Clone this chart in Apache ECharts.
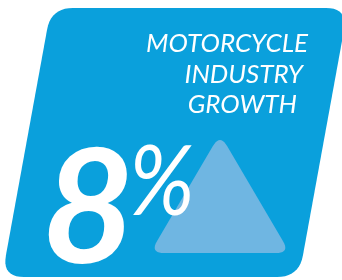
<!DOCTYPE html>
<html>
<head>
<meta charset="utf-8">
<script src="https://cdn.jsdelivr.net/npm/echarts@6/dist/echarts.min.js"></script>
<style>
html, body { margin: 0; padding: 0; background: #fff; }
#main { width: 342px; height: 280px; }
</style>
</head>
<body>
<div id="main"></div>
<script>
// values
var titleLines = ['MOTORCYCLE', 'INDUSTRY', 'GROWTH'];
var growthValue = [8];
var growthUnit = ['%'];

var blue = '#0aa0dc';
var triColor = '#6fb6e2';

// polygon with rounded corners (quadratic corners sampled into points)
function roundedPoints(pts, r) {
    var n = pts.length, out = [];
    for (var i = 0; i < n; i++) {
        var p = pts[i], a = pts[(i - 1 + n) % n], b = pts[(i + 1) % n];
        var la = Math.hypot(a[0] - p[0], a[1] - p[1]);
        var lb = Math.hypot(b[0] - p[0], b[1] - p[1]);
        var s = [p[0] + (a[0] - p[0]) * r / la, p[1] + (a[1] - p[1]) * r / la];
        var e = [p[0] + (b[0] - p[0]) * r / lb, p[1] + (b[1] - p[1]) * r / lb];
        for (var k = 0; k <= 10; k++) {
            var t = k / 10, u = 1 - t;
            out.push([u * u * s[0] + 2 * u * t * p[0] + t * t * e[0],
                      u * u * s[1] + 2 * u * t * p[1] + t * t * e[1]]);
        }
    }
    return out;
}

var panel = [[51, 8], [348, 8], [299, 277], [2, 277]];
var tri = [[220, 134], [290, 253], [150, 253]];

var titleStyle = { fill: '#fff', fontSize: 26, fontFamily: 'Lato', fontStyle: 'italic', align: 'right', verticalAlign: 'bottom' };

var myChart = echarts.init(document.getElementById('main'));
var option = {
    animation: false,
    graphic: [
        { type: 'polygon', shape: { points: roundedPoints(panel, 22) }, style: { fill: blue } },
        { type: 'polygon', shape: { points: roundedPoints(tri, 14) }, style: { fill: triColor } },
        { type: 'text', x: 308, y: 57, style: Object.assign({ text: titleLines[0] }, titleStyle) },
        { type: 'text', x: 303, y: 88, style: Object.assign({ text: titleLines[1] }, titleStyle) },
        { type: 'text', x: 297, y: 118, style: Object.assign({ text: titleLines[2] }, titleStyle) },
        {
            type: 'text', x: 42, y: 291,
            style: { text: String(growthValue[0]), fill: '#fff', fontSize: 160, fontWeight: 'bold', fontFamily: 'Lato', fontStyle: 'italic', align: 'left', verticalAlign: 'bottom' }
        },
        {
            type: 'text', x: 129, y: 232, scaleX: 0.9,
            style: { text: growthUnit[0], fill: '#fff', fontSize: 98, fontFamily: 'Lato', fontStyle: 'italic', align: 'left', verticalAlign: 'bottom' }
        }
    ]
};
myChart.setOption(option);
</script>
</body>
</html>
